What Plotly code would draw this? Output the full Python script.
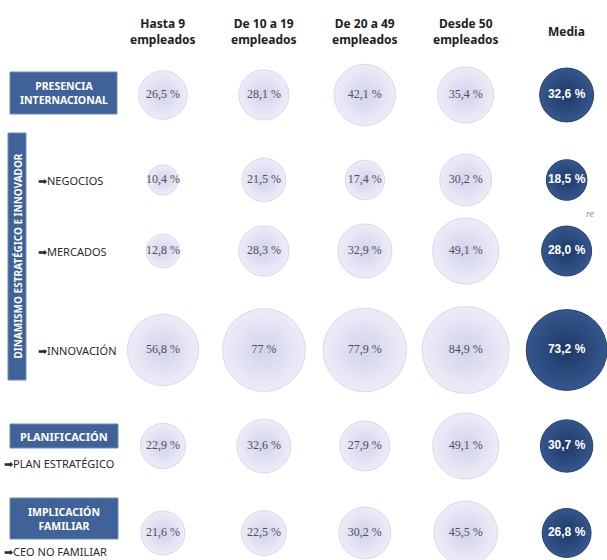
"""Burbujas: dinamismo empresarial por tamaño de empresa."""
import plotly.graph_objects as go

# ─── Datos ────────────────────────────────────────────────────────────────
COLUMNAS = ["Hasta 9<br>empleados", "De 10 a 19<br>empleados", "De 20 a 49<br>empleados",
            "Desde 50<br>empleados", "Media"]
FILAS = ["Presencia internacional", "Negocios", "Mercados", "Innovación",
         "Plan estratégico", "CEO no familiar"]

hasta_9 = [26.5, 10.4, 12.8, 56.8, 22.9, 21.6]
de_10_a_19 = [28.1, 21.5, 28.3, 77, 32.6, 22.5]
de_20_a_49 = [42.1, 17.4, 32.9, 77.9, 27.9, 30.2]
desde_50 = [35.4, 30.2, 49.1, 84.9, 49.1, 45.5]
media = [32.6, 18.5, 28.0, 73.2, 30.7, 26.8]

SERIES = [hasta_9, de_10_a_19, de_20_a_49, desde_50, media]

# ─── Layout (posiciones de fila en px, eje y invertido) ───────────────────
W, H = 607, 560
ROW_Y = [95, 180, 251, 350, 446, 533]
D_MAX = 87
AZUL = "#3f6298"
SIZEREF = 2 * max(max(s) for s in SERIES) / D_MAX ** 2


def fmt(v):
    return str(v).replace(".", ",") + " %"


def px(x):
    return x / W


fig = go.Figure()
for i, (col, vals) in enumerate(zip(COLUMNAS, SERIES)):
    es_media = i == len(COLUMNAS) - 1
    fig.add_trace(
        go.Scatter(
            x=[col] * len(vals),
            y=ROW_Y,
            mode="markers+text",
            text=[fmt(v) for v in vals],
            textposition="middle center",
            textfont=dict(
                family="Liberation Sans, Arial, sans-serif" if es_media else "Liberation Serif, serif",
                size=12,
                color="white" if es_media else "#50505a",
                weight="bold" if es_media else "normal",
            ),
            marker=dict(
                size=vals,
                sizemode="area",
                sizeref=SIZEREF,
                opacity=1,
                color="#35578e" if es_media else "#ededf8",
                gradient=dict(type="radial", color="#1d3866" if es_media else "#d2d2ec"),
                line=dict(width=1, color="#253f6c" if es_media else "#d8d8ee"),
            ),
            hoverinfo="skip",
            showlegend=False,
        )
    )

# ─── Cabeceras ────────────────────────────────────────────────────────────
anns = []
for col in COLUMNAS:
    anns.append(dict(
        x=col, y=31, xref="x", yref="y", text=f"<b>{col}</b>", showarrow=False,
        font=dict(family="Noto Sans, sans-serif", size=12, color="#222"),
        yanchor="middle",
    ))

# ─── Etiquetas de la izquierda ────────────────────────────────────────────
shapes = []


def caja(x0, y0, x1, y1):
    shapes.append(dict(type="rect", xref="paper", yref="y", x0=px(x0), x1=px(x1),
                       y0=y0, y1=y1, fillcolor=AZUL, line=dict(color="#6f8cba", width=1),
                       layer="below"))


def etiqueta(x, y, text, color="white", size=10.5, anchor="center"):
    anns.append(dict(x=px(x), y=y, xref="paper", yref="y", text=text, showarrow=False,
                     xanchor=anchor, yanchor="middle",
                     font=dict(family="Noto Sans, sans-serif", size=size, color=color)))


caja(10, 72, 117, 114)
etiqueta(63.5, 93, "<b>PRESENCIA<br>INTERNACIONAL</b>")

caja(8, 133, 26, 380)
anns.append(dict(x=px(17), y=256.5, xref="paper", yref="y", textangle=-90, showarrow=False,
                 xanchor="center", yanchor="middle",
                 text="<b>DINAMISMO ESTRATÉGICO E INNOVADOR</b>",
                 font=dict(family="Noto Sans, sans-serif", size=10, color="white")))

etiqueta(36, ROW_Y[1], "➡NEGOCIOS", color="#2a2a2a", size=11, anchor="left")
etiqueta(36, ROW_Y[2], "➡MERCADOS", color="#2a2a2a", size=11, anchor="left")
etiqueta(36, ROW_Y[3], "➡INNOVACIÓN", color="#2a2a2a", size=11, anchor="left")

caja(10, 424, 118, 448)
etiqueta(64, 436, "<b>PLANIFICACIÓN</b>", size=11)
etiqueta(2, 463, "➡PLAN ESTRATÉGICO", color="#2a2a2a", size=11, anchor="left")

caja(10, 498, 118, 539)
etiqueta(64, 518.5, "<b>IMPLICACIÓN<br>FAMILIAR</b>")
etiqueta(2, 551, "➡CEO NO FAMILIAR", color="#2a2a2a", size=11, anchor="left")

# fragmento de texto recortado del original
anns.append(dict(x=px(597), y=213, xref="paper", yref="y", text="<i>re</i>", showarrow=False,
                 font=dict(family="Liberation Serif, serif", size=10, color="#888")))

fig.update_layout(
    width=W,
    height=H,
    margin=dict(l=0, r=0, t=0, b=0),
    paper_bgcolor="white",
    plot_bgcolor="white",
    xaxis=dict(type="category", categoryorder="array", categoryarray=COLUMNAS,
               range=[-0.5, 4.4], domain=[112.5 / W, 1], visible=False, fixedrange=True),
    yaxis=dict(range=[H, 0], domain=[0, 1], visible=False, fixedrange=True),
    shapes=shapes,
    annotations=anns,
)

fig.write_html("out.html", config=dict(displayModeBar=False),
               post_script="document.body.style.margin='0';")
